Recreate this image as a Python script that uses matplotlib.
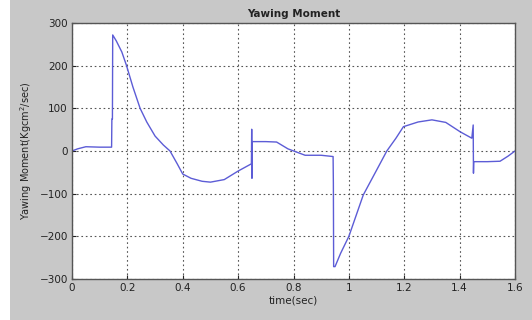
import matplotlib
matplotlib.use("Agg")
import matplotlib.pyplot as plt
from matplotlib.patches import Rectangle

# time (sec) and yawing moment values
time_sec = [0.0, 0.02, 0.05, 0.10, 0.143, 0.144, 0.146, 0.147, 0.16, 0.18, 0.197,
            0.22, 0.246, 0.27, 0.30, 0.33, 0.354, 0.38, 0.40, 0.43, 0.47, 0.50,
            0.55, 0.60, 0.648, 0.649, 0.650, 0.651, 0.70, 0.739, 0.78, 0.842,
            0.90, 0.943, 0.944, 0.945, 0.950, 0.97, 1.00, 1.052, 1.10, 1.137,
            1.17, 1.197, 1.25, 1.30, 1.35, 1.402, 1.444, 1.449, 1.450, 1.451,
            1.50, 1.546, 1.575, 1.60]
moment = [0, 5, 10, 9, 9, 75, 75, 272, 258, 232, 200,
          150, 100, 68, 35, 14, 0, -30, -54, -64, -71, -73,
          -67, -47, -30, 51, -64, 22, 22, 21, 5, -10,
          -10, -13, -75, -271, -271, -240, -200, -103, -45, 0,
          30, 57, 68, 73, 67, 45, 30, 61, -52, -25,
          -25, -24, -12, 0]

x_ticks = [0, 0.2, 0.4, 0.6, 0.8, 1.0, 1.2, 1.4, 1.6]
x_tick_labels = ["0", "0.2", "0.4", "0.6", "0.8", "1", "1.2", "1.4", "1.6"]
y_ticks = [-300, -200, -100, 0, 100, 200, 300]

fig = plt.figure(figsize=(5.32, 3.2), dpi=100, facecolor="#c8c8c8")
fig.patches.append(Rectangle((0, 0), 10 / 532, 1, transform=fig.transFigure,
                             facecolor="white", edgecolor="none", zorder=-1))
ax = fig.add_axes([72 / 532, 1 - 279 / 320, 443 / 532, 256 / 320])
ax.set_facecolor("white")

ax.plot(time_sec, moment, color="#5c5cd6", linewidth=1.0)

ax.set_xlim(0, 1.6)
ax.set_ylim(-300, 300)
ax.set_xticks(x_ticks)
ax.set_xticklabels(x_tick_labels)
ax.set_yticks(y_ticks)
ax.grid(True, color="#555555", linestyle=(0, (1.5, 2.5)), linewidth=0.8)
ax.tick_params(direction="in", labelsize=7.5, length=3, colors="#222222",
               pad=3)
for sp in ax.spines.values():
    sp.set_color("#555555")
    sp.set_linewidth(1.0)

ax.set_title("Yawing Moment", fontsize=7.5, fontweight="bold", pad=4,
             color="#222222")
ax.set_xlabel("time(sec)", fontsize=7.5, labelpad=2, color="#222222")
ax.set_ylabel("Yawing Moment(Kgcm$^2$/sec)", fontsize=7, labelpad=4,
              color="#222222")

fig.savefig("out.png", dpi=100, facecolor=fig.get_facecolor())
